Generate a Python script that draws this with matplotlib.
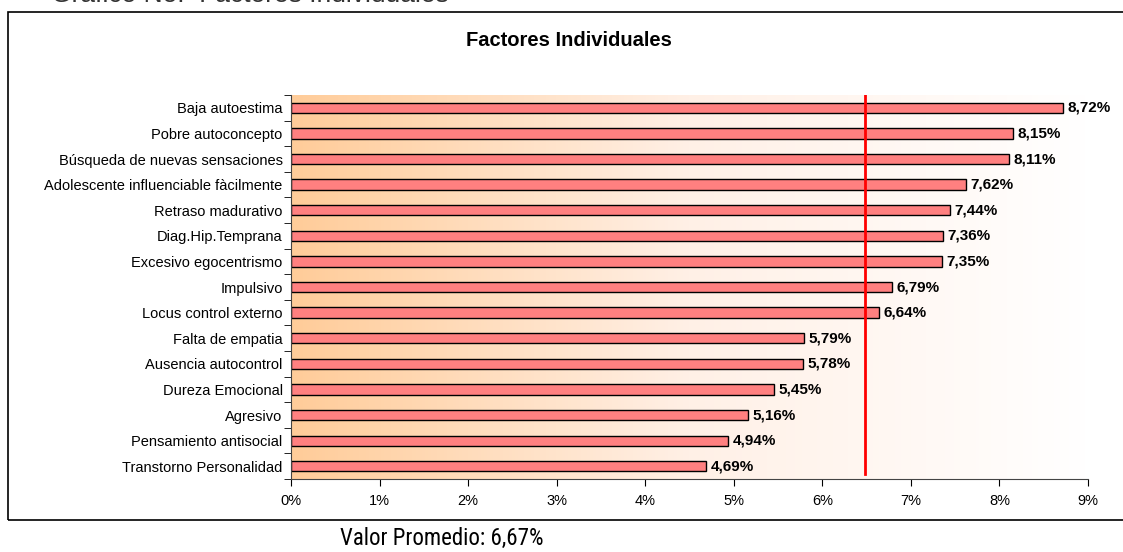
import numpy as np
import matplotlib.pyplot as plt
from matplotlib import font_manager
from matplotlib.patches import Rectangle
from matplotlib.colors import LinearSegmentedColormap

plt.rcParams['font.family'] = ['Liberation Sans', 'DejaVu Sans']

factores = ['Baja autoestima', 'Pobre autoconcepto', 'Búsqueda de nuevas sensaciones',
            'Adolescente influenciable fàcilmente', 'Retraso madurativo', 'Diag.Hip.Temprana',
            'Excesivo egocentrismo', 'Impulsivo', 'Locus control externo', 'Falta de empatia',
            'Ausencia autocontrol', 'Dureza Emocional', 'Agresivo', 'Pensamiento antisocial',
            'Transtorno Personalidad']
valores = [8.72, 8.15, 8.11, 7.62, 7.44, 7.36, 7.35, 6.79, 6.64, 5.79, 5.78, 5.45, 5.16, 4.94, 4.69]
linea_promedio = 6.48
xticks = list(range(0, 10))

# fuente estrecha para el pie, si hay alguna
nombres = {f.name for f in font_manager.fontManager.ttflist}
estrecha = next((f for f in ['Liberation Sans Narrow', 'Roboto Condensed', 'Open Sans Condensed']
                 if f in nombres), None)

fig = plt.figure(figsize=(11.23, 5.52), dpi=100)
ax = fig.add_axes([0.2591, 0.1322, 0.7097, 0.6957])

# degradado de fondo
cmap = LinearSegmentedColormap.from_list('fondo', ['#FFCC99', '#FFF0E6', '#FFFFFF'])
grad = np.linspace(0, 1, 256).reshape(1, -1)
n = len(factores)
ax.imshow(grad, aspect='auto', cmap=cmap, extent=[0, 9, n - 0.5, -0.5], zorder=0)

y = np.arange(n)
ax.barh(y, valores, height=0.4, color='#FF8080', edgecolor='black', linewidth=1, zorder=2)
for yi, v in zip(y, valores):
    ax.text(v + 0.05, yi, f'{v:.2f}%'.replace('.', ','), va='center', ha='left',
            fontsize=11, fontweight='bold', zorder=3)

ax.plot([linea_promedio, linea_promedio], [n - 0.7, -0.55], color='red', linewidth=2, zorder=4)

ax.set_xlim(0, 9)
ax.set_ylim(n - 0.5, -0.5)
ax.set_xticks(xticks)
ax.set_xticklabels([f'{t}%' for t in xticks], fontsize=10.5)
ax.set_yticks(y)
ax.set_yticklabels(factores, fontsize=10.5)
ax.tick_params(axis='y', length=0, pad=6)
ax.set_yticks(np.arange(-0.5, n, 1), minor=True)
ax.tick_params(axis='y', which='minor', length=5, direction='out')
ax.tick_params(axis='x', length=5, direction='out', pad=6)
for s in ['top', 'right']:
    ax.spines[s].set_visible(False)
ax.spines['left'].set_color('#444444')
ax.spines['bottom'].set_color('#444444')

fig.text(0.507, 0.926, 'Factores Individuales', ha='center', va='center',
         fontsize=14.5, fontweight='bold')
fig.text(0.045, 1.009, 'Gráfico No.  Factores Individuales', ha='left', va='center',
         fontsize=19, color='#333333')
if estrecha:
    fig.text(0.393, 0.025, 'Valor Promedio: 6,67%', ha='center', va='center',
             fontsize=16.5, family=[estrecha, 'Liberation Sans'])
else:
    fig.text(0.393, 0.025, 'Valor Promedio: 6,67%', ha='center', va='center', fontsize=14)

fig.patches.append(Rectangle((8 / 1123, 1 - 520 / 552), 1.0, (520 - 12) / 552,
                             transform=fig.transFigure, fill=False,
                             edgecolor='black', linewidth=1.2))

fig.savefig('out.png', dpi=100)
